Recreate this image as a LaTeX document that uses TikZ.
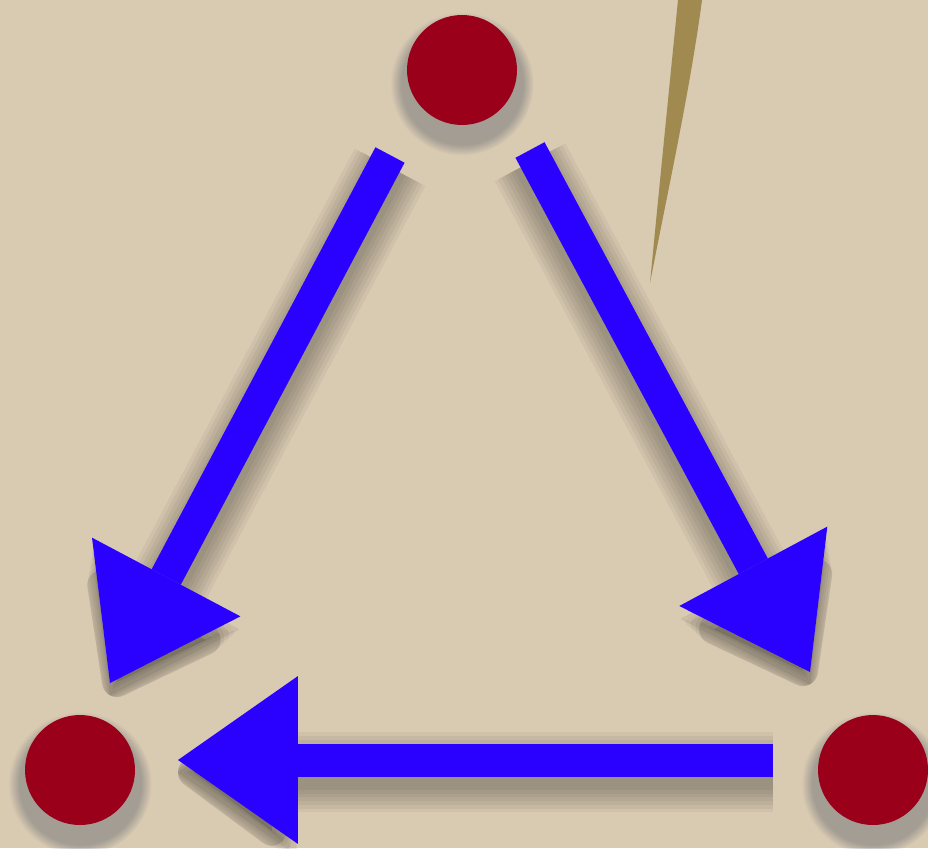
\documentclass[tikz,border=0pt]{standalone}
\usepackage{tikz}
\usetikzlibrary{arrows.meta,shadows}
\definecolor{paper}{RGB}{217,202,178}
\definecolor{dotred}{RGB}{155,0,26}
\definecolor{arrblue}{RGB}{42,0,255}
\definecolor{needle}{RGB}{160,138,80}

\begin{document}
\begin{tikzpicture}[x=0.02cm,y=-0.02cm,
  dot/.style={circle,fill=dotred,minimum size=2.2cm,inner sep=0pt,
    circular drop shadow={shadow xshift=0pt,shadow yshift=-6pt,shadow scale=1.3,opacity=.6}},
  arr/.style={draw=arrblue,line width=0.66cm,-{Triangle[length=2.4cm,width=3.36cm,line width=0pt]}},
  arrshade/.style={draw=black,opacity=0.045,line width=#1,
    -{Triangle[round,length=2.4cm,width=3.36cm,line width=#1-0.66cm]},
    transform canvas={yshift=-7pt}}
]
\clip (0,0) rectangle (928,848);
\fill[paper] (0,0) rectangle (928,848);

% needle
\fill[needle] (678,0) .. controls (668,100) and (658,200) .. (650,283)
  .. controls (668,190) and (690,90) .. (702,0) -- cycle;

\node[dot] (t) at (462,70) {};
\node[dot] (l) at (80,770) {};
\node[dot] (r) at (873,770) {};

\coordinate (tl) at ([shift={(-72,85)}]t.center);
\coordinate (lt) at ([shift={(30,-87)}]l.center);
\coordinate (tr) at ([shift={(68,80)}]t.center);
\coordinate (rt) at ([shift={(-63,-98)}]r.center);
\coordinate (rl) at ([shift={(-100,-10)}]r.center);
\coordinate (lr) at ([shift={(98,-10)}]l.center);

\foreach \w in {0.7cm,0.85cm,1.0cm,1.15cm,1.3cm,1.45cm,1.6cm}{
  \draw[arrshade=\w] (tl) -- (lt);
  \draw[arrshade=\w] (tr) -- (rt);
  \draw[arrshade=\w] (rl) -- (lr);
}
\draw[arr] (tl) -- (lt);
\draw[arr] (tr) -- (rt);
\draw[arr] (rl) -- (lr);
\end{tikzpicture}
\end{document}
